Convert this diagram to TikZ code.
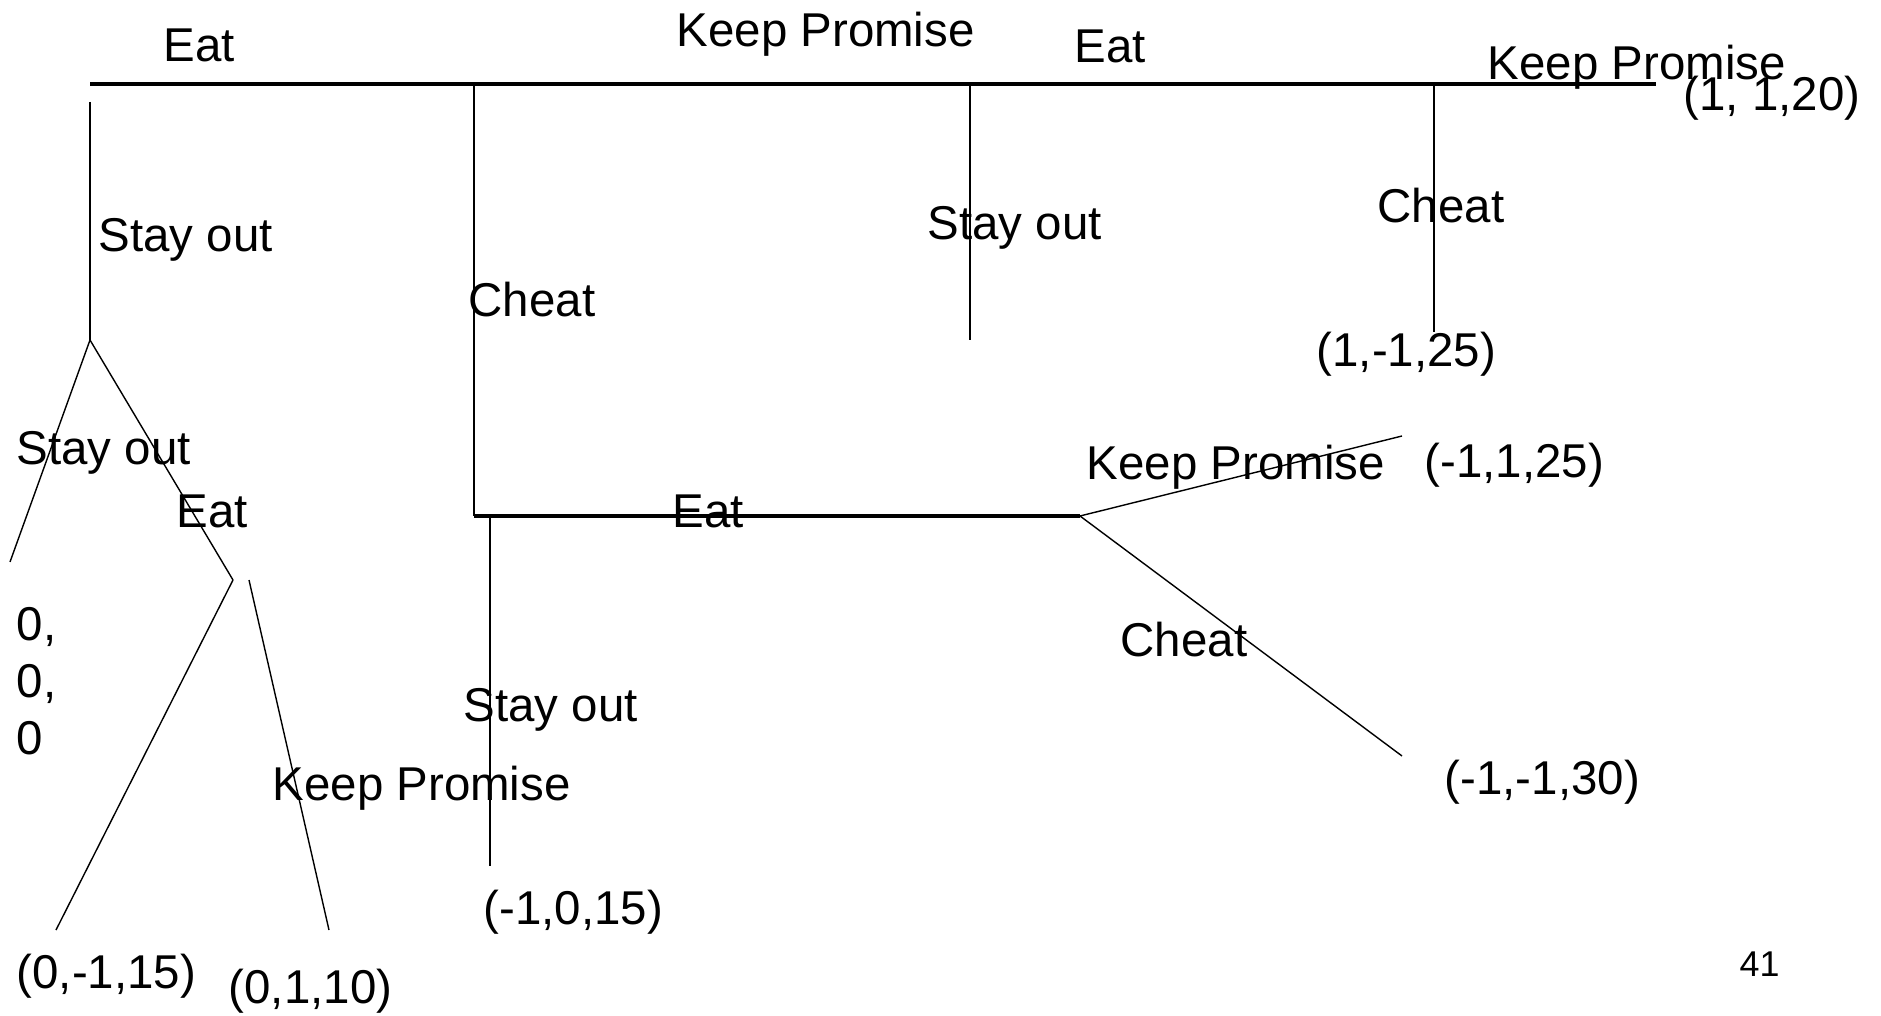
\documentclass[tikz,border=0pt]{standalone}
\usepackage{fontspec}
\setmainfont{Liberation Sans}
\usetikzlibrary{positioning}

\begin{document}
\begin{tikzpicture}[x=0.1mm, y=0.1mm,
  lbl/.style={font=\fontsize{13.5}{16.2}\selectfont, inner sep=0pt, anchor=base west},
  pay/.style={lbl},
  beam/.style={line width=0.95pt},
  stem/.style={line width=0.72pt},
  twig/.style={line width=0.4pt}]
  \useasboundingbox (0,0) rectangle (1881,-1016);
  % top line of the tree
  \coordinate (t0) at (90,-84);
  \coordinate (t1) at (474,-84);
  \coordinate (t2) at (970,-84);
  \coordinate (t3) at (1434,-84);
  \coordinate (tend) at (1656,-84);
  \coordinate (t2e) at (970,-340);
  \coordinate (t3e) at (1434,-332);
  \draw[beam] (t0)--(tend);
  \draw[stem] (t2)--(t2e); \draw[stem] (t3)--(t3e);
  \node[lbl] (eat1) at (163,-62) {Eat};
  \node[lbl] (kp1) at (676,-47) {Keep Promise};
  \node[lbl] (eat2) at (1074,-63) {Eat};
  \node[lbl] (kp2) at (1487,-80) {Keep Promise};
  \node[pay] (p1) at (1683,-111) {(1, 1,20)};
  \node[lbl] (so2) at (927,-240) {Stay out};
  \node[lbl] (ch2) at (1377,-223) {Cheat};
  \node[pay] (p2) at (1316,-367) {(1,-1,25)};
  % left branch
  \coordinate (s0) at (90,-102);
  \coordinate (n1) at (90,-340);
  \coordinate (n1l) at (10,-562);
  \coordinate (n2) at (233,-580);
  \coordinate (n2l) at (56,-930);
  \coordinate (n2r) at (249,-580);
  \coordinate (n2re) at (329,-930);
  \draw[stem] (s0)--(n1);
  \draw[twig] (n1)--(n1l); \draw[twig] (n1)--(n2);
  \draw[twig] (n2)--(n2l); \draw[twig] (n2r)--(n2re);
  \node[lbl] (so1) at (98,-252) {Stay out};
  \node[lbl] (so3) at (16,-465) {Stay out};
  \node[lbl] (eat3) at (176,-528) {Eat};
  \node[lbl, anchor=north west, align=left] (p0) at (16,-607) {0,\\0,\\0};
  \node[pay] (p3) at (16,-988) {(0,-1,15)};
  \node[pay] (p4) at (228,-1003) {(0,1,10)};
  \node[lbl] (kp3) at (272,-800) {Keep Promise};
  % middle branch
  \coordinate (m1) at (474,-516);
  \coordinate (m1b) at (490,-516);
  \coordinate (m1e) at (490,-866);
  \coordinate (n3) at (1080,-516);
  \coordinate (n3u) at (1402,-436);
  \coordinate (n3d) at (1402,-756);
  \draw[stem] (t1)--(m1);
  \draw[beam] (m1)--(n3);
  \draw[stem] (m1b)--(m1e);
  \draw[twig] (n3)--(n3u); \draw[twig] (n3)--(n3d);
  \node[lbl] (ch1) at (468,-317) {Cheat};
  \node[lbl] (so4) at (463,-721) {Stay out};
  \node[pay] (p5) at (483,-924) {(-1,0,15)};
  \node[lbl] (eat4) at (672,-528) {Eat};
  \node[lbl] (kp4) at (1086,-480) {Keep Promise};
  \node[pay] (p6) at (1424,-478) {(-1,1,25)};
  \node[lbl] (ch3) at (1120,-656) {Cheat};
  \node[pay] (p7) at (1444,-794) {(-1,-1,30)};
  % page number
  \node[lbl, font=\fontsize{10.2}{12}\selectfont] (pg) at (1739,-976) {41};
\end{tikzpicture}
\end{document}
